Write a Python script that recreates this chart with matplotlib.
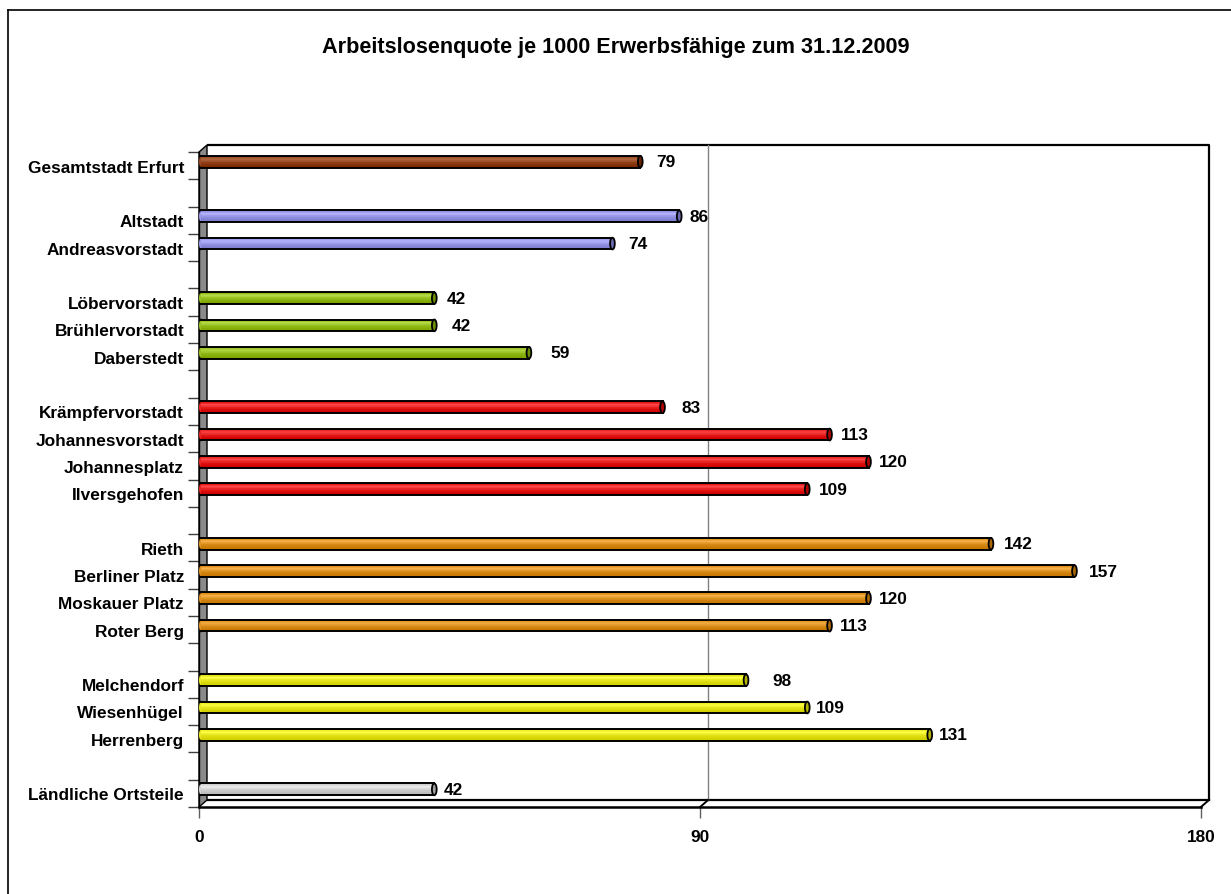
import numpy as np
import matplotlib
matplotlib.use('Agg')
import matplotlib.pyplot as plt
from matplotlib.patches import Ellipse, Polygon
from matplotlib.lines import Line2D
from matplotlib.transforms import ScaledTranslation
from matplotlib.colors import to_rgb

plt.rcParams['font.family'] = ['Liberation Sans', 'DejaVu Sans']
plt.rcParams['font.weight'] = 'bold'

# districts, blank entries separate the groups
categories = ['Gesamtstadt Erfurt', '',
              'Altstadt', 'Andreasvorstadt', '',
              'Löbervorstadt', 'Brühlervorstadt', 'Daberstedt', '',
              'Krämpfervorstadt', 'Johannesvorstadt', 'Johannesplatz', 'Ilversgehofen', '',
              'Rieth', 'Berliner Platz', 'Moskauer Platz', 'Roter Berg', '',
              'Melchendorf', 'Wiesenhügel', 'Herrenberg', '',
              'Ländliche Ortsteile']
values = [79, None,
          86, 74, None,
          42, 42, 59, None,
          83, 113, 120, 109, None,
          142, 157, 120, 113, None,
          98, 109, 131, None,
          42]
groups = [0, None, 1, 1, None, 2, 2, 2, None, 3, 3, 3, 3, None,
          4, 4, 4, 4, None, 5, 5, 5, None, 6]
group_colors = ['#993300', '#9999ff', '#99cc00', '#ff0000', '#f39200', '#ffff00', '#e4e4e4']
xticks = [0, 90, 180]

# space (px) between bar end and its value label
label_gap = [16, None, 10, 15.7, None, 12.9, 17.9, 21.5, None,
             19.4, 11.6, 10.6, 11.8, None, 12.8, 14, 10.6, 10.6, None,
             26.8, 8.8, 9.3, None, 9.5]

W, H, DPI = 1231, 895, 100
fig = plt.figure(figsize=(W / DPI, H / DPI), dpi=DPI)
ax_l, ax_r, ax_t, ax_b = 199, 1201, 153, 808
ax = fig.add_axes([ax_l / W, 1 - ax_b / H, (ax_r - ax_l) / W, (ax_b - ax_t) / H])
n = len(categories)
ax.set_xlim(0, 180)
ax.set_ylim(n - 0.5, -0.5)

px = lambda v: v / DPI
back_tr = ax.transData + ScaledTranslation(px(8), px(7), fig.dpi_scale_trans)
bar_tr = ax.transData + ScaledTranslation(px(1.5), px(4), fig.dpi_scale_trans)

# back wall frame and gridline
ax.plot([0, 180, 180], [-0.5, -0.5, n - 0.5], color='black', lw=1.6,
        transform=back_tr, clip_on=False, solid_capstyle='butt', zorder=1)
ax.plot([0, 180], [n - 0.5, n - 0.5], color='black', lw=1.6,
        transform=back_tr, clip_on=False, zorder=1)
ax.plot([90, 90], [-0.5, n - 0.5], color='#808080', lw=1,
        transform=back_tr, clip_on=False, zorder=1)

# side wall and floor edges joining front and back
dx, dy = 8 / (ax_r - ax_l), 7 / (ax_b - ax_t)
wall = Polygon([(0, 0), (0, 1), (dx, 1 + dy), (dx, dy)], closed=True,
               facecolor='#8a8a8a', edgecolor='black', lw=1,
               transform=ax.transAxes, clip_on=False, zorder=2)
ax.add_patch(wall)
for xf in [0.5, 1.0]:
    ax.plot([xf, xf + dx], [0, dy], color='black', lw=1.4,
            transform=ax.transAxes, clip_on=False, zorder=2)

# cylinder bars
bar_h = 0.43
cap_w = 0.85
n_strips = 16


def shade(base, t):
    # light band just below the top edge, darker towards the bottom
    c = np.array(to_rgb(base))
    if t < 0.28:
        k = t / 0.28
        c = c * (0.85 + 0.15 * k) + (1 - c) * 0.28 * k
    else:
        k = (t - 0.28) / 0.72
        c = (c + (1 - c) * 0.28) * (1 - k) ** 2 + c * 0.82 * (1 - (1 - k) ** 2)
    return np.clip(c, 0, 1)


for i, (v, g) in enumerate(zip(values, groups)):
    if v is None:
        continue
    base = group_colors[g]
    ax.add_patch(Ellipse((0, i), cap_w, bar_h, facecolor=shade(base, 0.5),
                         edgecolor='black', lw=1.2, transform=bar_tr, zorder=3))
    sh = bar_h / n_strips
    for k in range(n_strips):
        yk = i - bar_h / 2 + (k + 0.5) * sh
        ax.barh(yk, v, height=sh * 1.05, left=0, color=shade(base, (k + 0.5) / n_strips),
                linewidth=0, transform=bar_tr, zorder=4)
    ax.plot([0, v], [i - bar_h / 2, i - bar_h / 2], color='black', lw=1.4,
            transform=bar_tr, zorder=5)
    ax.plot([0, v], [i + bar_h / 2, i + bar_h / 2], color='black', lw=1.4,
            transform=bar_tr, zorder=5)
    end = np.array(to_rgb(base)) * 0.7
    ax.add_patch(Ellipse((v, i), cap_w, bar_h, facecolor=end,
                         edgecolor='black', lw=1.3, transform=bar_tr, zorder=6))
    ax.annotate(str(v), xy=(v, i), xycoords=bar_tr,
                xytext=(label_gap[i] * 0.72, 0), textcoords='offset points',
                ha='left', va='center', fontsize=12.4, fontweight='bold')

# axes, ticks and labels
for s in ['top', 'right']:
    ax.spines[s].set_visible(False)
ax.spines['left'].set_linewidth(1)
ax.spines['bottom'].set_linewidth(1.8)
ax.spines['left'].set_zorder(2.5)

ax.set_xticks(xticks)
ax.set_xticklabels([str(t) for t in xticks], fontsize=12.4, fontweight='bold')
ax.tick_params(axis='x', length=7.9, width=1, color='#606060', pad=8)

ax.set_yticks(range(n))
ax.set_yticklabels(categories, fontsize=12.4, fontweight='bold')
ax.set_yticks(np.arange(-0.5, n, 1), minor=True)
ax.tick_params(axis='y', which='major', length=0, pad=10.8)
ax.tick_params(axis='y', which='minor', length=7.9, width=1, color='#404040')
ax.patch.set_visible(False)

fig.text(0.5, 1 - 47 / H, 'Arbeitslosenquote je 1000 Erwerbsfähige zum 31.12.2009',
         ha='center', va='center', fontsize=15.6, fontweight='bold')

# outer chart border
fig.add_artist(Line2D([8 / W, 8 / W], [0, 1 - 11 / H], color='black', lw=1.2))
fig.add_artist(Line2D([8 / W, 1], [1 - 11 / H, 1 - 11 / H], color='black', lw=1.2))

fig.savefig('out.png', dpi=DPI)
